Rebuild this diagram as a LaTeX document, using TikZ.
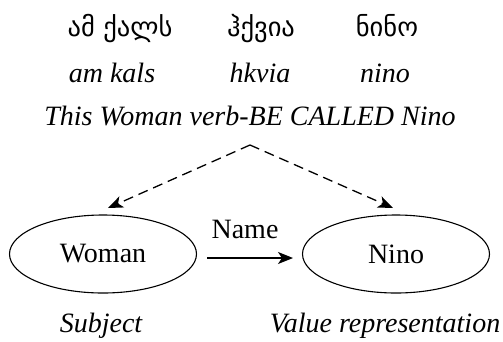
\documentclass[tikz,border=0pt]{standalone}
\usepackage{fontspec}
\setmainfont{Liberation Serif}
\newfontfamily\geofont[Script=Georgian]{DejaVu Sans}
\usetikzlibrary{shapes.geometric,arrows.meta}
\tikzset{
  geo/.style={anchor=base,font=\geofont\fontsize{26.5}{30}\selectfont},
  ital/.style={anchor=base,font=\fontsize{28}{32}\selectfont\itshape},
  rom/.style={font=\fontsize{28}{32}\selectfont},
  oval/.style={draw,ellipse,line width=1.1pt,minimum width=187pt,minimum height=78pt,inner sep=0pt,font=\fontsize{28}{32}\selectfont},
  dasharrow/.style={line width=1.3pt,dash pattern=on 10pt off 6pt,-{Stealth[length=15pt,width=12pt,inset=4pt]}},
  solidarrow/.style={line width=1.3pt,-{Stealth[length=15pt,width=12pt,inset=4pt]}}
}
\begin{document}
\begin{tikzpicture}[x=1pt,y=-1pt]
\useasboundingbox (0,0) rectangle (503,341);
\node[geo] (g1) at (120,36) {ამ ქალს};
\node[geo] (g2) at (261,36) {ჰქვია};
\node[geo] (g3) at (387,36) {ნინო};
\node[ital] (t1) at (112,82) {am kals};
\node[ital] (t2) at (260,82) {hkvia};
\node[ital] (t3) at (385,82) {nino};
\node[ital] (tr) at (250,125) {This Woman verb-BE CALLED Nino};
\coordinate (apex) at (250,145);
\node[oval] (woman) at (103,254) {Woman};
\node[oval] (nino) at (396,254) {Nino};
\coordinate (lt) at (108,208);
\coordinate (rt) at (393,208);
\draw[dasharrow] (apex) -- (lt);
\draw[dasharrow] (apex) -- (rt);
\coordinate (as) at (207,258);
\coordinate (ae) at (293,258);
\draw[solidarrow] (as) -- (ae);
\node[rom,anchor=base] (name) at (245,238) {Name};
\node[ital] (subj) at (101,332) {Subject};
\node[ital] (val) at (385,332) {Value representation};
\end{tikzpicture}
\end{document}
